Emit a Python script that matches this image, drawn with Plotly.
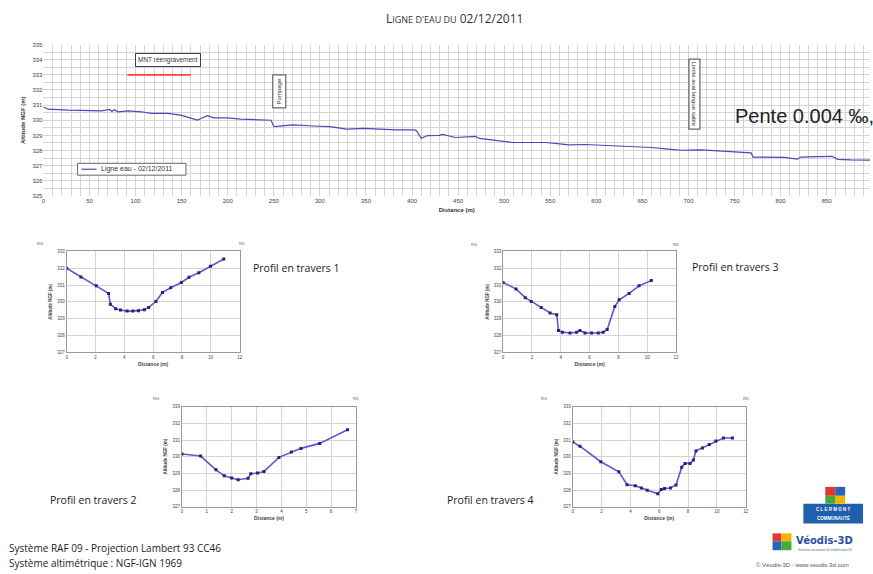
import plotly.graph_objects as go

W, H = 873, 574

# ---------------- data ----------------
dist_main = [0, 5, 27, 50, 63, 72, 74, 77, 81, 92, 106, 117, 135, 149, 163, 167, 171, 178, 185,
             200, 214, 228, 243, 247, 250, 261, 271, 293, 311, 329, 347, 365, 383, 403, 405,
             410, 417, 430, 433, 447, 469, 473, 491, 509, 527, 545, 563, 570, 588, 606, 624,
             642, 660, 678, 692, 714, 732, 750, 768, 770, 786, 804, 818, 822, 840, 856, 862,
             876, 897]
alt_main = [330.88, 330.73, 330.67, 330.65, 330.62, 330.72, 330.58, 330.7, 330.56, 330.62,
            330.56, 330.45, 330.45, 330.34, 330.12, 330.01, 330.12, 330.3, 330.16, 330.16,
            330.08, 330.06, 330.01, 330.0, 329.58, 329.64, 329.69, 329.62, 329.58, 329.42,
            329.46, 329.42, 329.36, 329.36, 329.3, 328.81, 328.99, 329.0, 329.06, 328.86,
            328.93, 328.8, 328.64, 328.53, 328.53, 328.53, 328.42, 328.38, 328.4, 328.35,
            328.3, 328.26, 328.2, 328.1, 328.02, 328.05, 327.99, 327.92, 327.85, 327.57,
            327.57, 327.55, 327.44, 327.57, 327.6, 327.62, 327.42, 327.38, 327.37]
main_series_name = "Ligne eau - 02/12/2011"

p1_x = [0, 0.99, 2.06, 2.91, 3.03, 3.4, 3.74, 4.2, 4.59, 4.98, 5.39, 5.69, 6.19, 6.65, 7.22,
        7.96, 8.49, 9.17, 9.98, 10.9]
p1_y = [332.0, 331.48, 330.95, 330.5, 329.86, 329.59, 329.51, 329.45, 329.45, 329.47, 329.53,
        329.67, 330.02, 330.56, 330.84, 331.15, 331.46, 331.73, 332.12, 332.55]

p3_x = [0, 0.9, 1.54, 1.95, 2.64, 3.26, 3.72, 3.84, 4.11, 4.64, 5.1, 5.33, 5.68, 6.14, 6.6,
        6.94, 7.22, 7.75, 8.05, 8.74, 9.43, 10.28]
p3_y = [331.15, 330.76, 330.25, 330.02, 329.67, 329.34, 329.24, 328.3, 328.2, 328.15, 328.19,
        328.3, 328.15, 328.15, 328.15, 328.2, 328.36, 329.73, 330.12, 330.5, 330.95, 331.27]

p2_x = [0, 0.75, 1.37, 1.7, 2.0, 2.26, 2.66, 2.77, 3.04, 3.3, 3.9, 4.4, 4.79, 5.54, 6.66]
p2_y = [330.16, 330.04, 329.21, 328.85, 328.72, 328.62, 328.7, 328.98, 329.02, 329.11,
        329.96, 330.28, 330.5, 330.8, 331.62]

p4_x = [0, 0.5, 1.95, 3.2, 3.77, 4.34, 4.76, 5.17, 5.9, 6.14, 6.37, 6.78, 7.17, 7.56, 7.79,
        8.14, 8.37, 8.55, 9.0, 9.47, 9.93, 10.46, 11.08]
p4_y = [330.89, 330.63, 329.7, 329.09, 328.32, 328.26, 328.12, 327.98, 327.77, 328.03, 328.09,
        328.12, 328.3, 329.37, 329.6, 329.6, 329.8, 330.35, 330.53, 330.73, 330.95, 331.12,
        331.12]

mnt_line_x = [91, 160]
mnt_line_y = [333.0, 333.0]

main_yticks = list(range(325, 336))
prof_yticks = list(range(327, 334))

# ---------------- helpers ----------------
def px(v):
    return v / W

def py(v):
    return 1 - v / H

LINE = "#4a4ab8"
MARK = "#23237a"
GRID = "#d4d4d4"
TICKF = dict(family="Liberation Sans, Arial", size=6, color="#444")
TXT = "Open Sans, Liberation Sans"

fig = go.Figure()

fig.add_trace(go.Scatter(x=dist_main, y=alt_main, mode="lines", name=main_series_name,
                         line=dict(color=LINE, width=1.2), xaxis="x", yaxis="y", showlegend=False))
fig.add_trace(go.Scatter(x=mnt_line_x, y=mnt_line_y, mode="lines", line=dict(color="#ff4040", width=1.6),
                         xaxis="x", yaxis="y", showlegend=False, hoverinfo="skip"))

profiles = [
    (p1_x, p1_y, "x2", "y2"),
    (p3_x, p3_y, "x3", "y3"),
    (p2_x, p2_y, "x4", "y4"),
    (p4_x, p4_y, "x5", "y5"),
]
for xs, ys, xa, ya in profiles:
    fig.add_trace(go.Scatter(x=xs, y=ys, mode="lines+markers",
                             line=dict(color="#5a5ad0", width=1.6),
                             marker=dict(symbol="square", size=3, color=MARK),
                             xaxis=xa, yaxis=ya, showlegend=False))

layout = dict(
    width=W, height=H, margin=dict(l=0, r=0, t=0, b=0),
    paper_bgcolor="white", plot_bgcolor="white",
    showlegend=False,
    xaxis=dict(domain=[px(41.7), 1], range=[0, 897], dtick=50, tick0=0,
               showgrid=True, gridcolor=GRID, gridwidth=1,
               minor=dict(dtick=10, showgrid=True, gridcolor=GRID, gridwidth=1),
               zeroline=False, showline=False, tickfont=TICKF, ticks="",
               title=dict(text="<b>Distance (m)</b>", font=dict(family="Liberation Sans, Arial", size=6, color="#333"),
                          standoff=4),
               anchor="y"),
    yaxis=dict(domain=[py(195), py(42)], range=[325, 335], tickvals=main_yticks,
               showgrid=True, gridcolor=GRID, gridwidth=1,
               minor=dict(dtick=0.5, showgrid=True, gridcolor=GRID, gridwidth=1),
               zeroline=False, showline=False, tickfont=TICKF, ticks="",
               title=dict(text="<b>Altitude NGF (m)</b>", font=dict(family="Liberation Sans, Arial", size=6, color="#333"),
                          standoff=6),
               anchor="x"),
)

prof_boxes = {
    "2": (65, 239, 251, 353, 12, 2),
    "3": (504, 678, 251, 353, 12, 2),
    "4": (181, 356, 408, 509, 7, 1),
    "5": (574, 748, 408, 509, 12, 2),
}
SF = dict(family="Liberation Sans, Arial", size=4.5, color="#444")
for k, (x0, x1, y0, y1, xmax, dt) in prof_boxes.items():
    layout["xaxis" + k] = dict(domain=[px(x0), px(x1)], range=[0, xmax], dtick=dt, tick0=0,
                               showgrid=True, gridcolor=GRID, zeroline=False,
                               showline=True, linecolor="#999", mirror=True, ticks="",
                               tickfont=SF, anchor="y" + k,
                               title=dict(text="<b>Distance (m)</b>", font=dict(family="Liberation Sans, Arial", size=5, color="#444"),
                                          standoff=3))
    layout["yaxis" + k] = dict(domain=[py(y1), py(y0)], range=[327, 333], tickvals=prof_yticks,
                               showgrid=True, gridcolor=GRID, zeroline=False,
                               showline=True, linecolor="#999", mirror=True, ticks="",
                               tickfont=SF, anchor="x" + k,
                               title=dict(text="<b>Altitude NGF (m)</b>", font=dict(family="Liberation Sans, Arial", size=4.5, color="#444"),
                                          standoff=4))

fig.update_layout(**layout)


def pa(x, y, text, size, family=TXT, color="#222", xanchor="center", **kw):
    d = dict(x=px(x), y=py(y), xref="paper", yref="paper", showarrow=False, text=text,
             xanchor=xanchor, yanchor="middle", font=dict(family=family, size=size, color=color))
    d.update(kw)
    return d


ann = []
# title (small caps imitation)
ann.append(pa(455, 16, "<span style='font-size:12px'>L</span><span style='font-size:9px'>IGNE D'EAU DU</span> 02/12/2011",
              12, color="#333"))
# MNT box
ann.append(dict(x=135, y=333.95, xref="x", yref="y", showarrow=False, text="MNT réengravement",
                font=dict(family="Liberation Sans, Arial", size=6.5, color="#333"),
                bordercolor="#444", borderwidth=1, borderpad=2, bgcolor="white"))
# Pompage
ann.append(dict(x=256, y=331.93, xref="x", yref="y", showarrow=False, text="Pompage", textangle=-90,
                font=dict(family="Liberation Sans, Arial", size=6, color="#333"),
                bordercolor="#444", borderwidth=1, borderpad=3, bgcolor="white"))
# Limite aval
ann.append(dict(x=707, y=331.7, xref="x", yref="y", showarrow=False, text="Limite aval langue sable",
                textangle=90,
                font=dict(family="Liberation Sans, Arial", size=6, color="#333"),
                bordercolor="#444", borderwidth=1, borderpad=2, bgcolor="white"))
# Pente
ann.append(pa(735, 114, "Pente 0.004 ‰,", 20, family="Liberation Sans, Arial", xanchor="left"))
# legend text
ann.append(pa(98, 168, main_series_name, 7, family="Liberation Sans, Arial", color="#333", xanchor="left"))

# Profile labels
for (tx, ty, t) in [(296, 268, "Profil en travers 1"), (738, 267, "Profil en travers 3"),
                    (92, 502, "Profil en travers 2"), (491, 502, "Profil en travers 4")]:
    ann.append(pa(tx, ty, t, 10.5))

# RG / RD
for (tx, ty, t) in [(38, 243, "RG"), (241, 243, "RD"), (475, 244, "RG"), (678, 244, "RD"),
                    (155, 400, "RG"), (356, 400, "RD"), (545, 400, "RG"), (748, 400, "RD")]:
    ann.append(pa(tx, ty, t, 4, family="Liberation Sans, Arial", color="#555"))

# bottom-left texts
ann.append(pa(5, 551, "Système RAF 09 - Projection Lambert 93 CC46", 10, xanchor="left"))
ann.append(pa(5, 566, "Système altimétrique : NGF-IGN 1969", 10, xanchor="left"))

# logos text
ann.append(pa(836, 512, "<b>C L E R M O N T</b>", 4.5, family="Liberation Sans", color="white"))
ann.append(pa(836, 520, "<b>COMMUNAUTÉ</b>", 4.5, family="Liberation Sans", color="white"))
ann.append(pa(797, 543, "<b>Véodis-3D</b>", 10, family="DejaVu Sans", color="#2b4ea0", xanchor="left"))
ann.append(pa(799, 553, "Solutions innovantes de modélisation 3D", 3, family="Liberation Sans",
              color="#3a8a3a", xanchor="left"))
ann.append(pa(805, 568, "© Véodis-3D - www.veodis-3d.com", 6, family="Liberation Sans", color="#555"))

fig.update_layout(annotations=ann)

shapes = []
# legend box + sample line
shapes.append(dict(type="rect", xref="paper", yref="paper", x0=px(76), x1=px(185), y0=py(174), y1=py(162),
                   fillcolor="white", line=dict(color="#666", width=1), layer="above"))
shapes.append(dict(type="line", xref="paper", yref="paper", x0=px(80), x1=px(95), y0=py(168), y1=py(168),
                   line=dict(color=LINE, width=1.2), layer="above"))
# Clermont logo
shapes.append(dict(type="rect", xref="paper", yref="paper", x0=px(806), x1=px(866), y0=py(526), y1=py(506),
                   fillcolor="#1f5fae", line=dict(width=0)))
for (a, b, c, d, col) in [(828, 838, 489, 498, "#e03a2e"), (838, 848, 489, 498, "#2a66b8"),
                          (838, 848, 498, 506, "#f3b400"), (828, 838, 498, 506, "#4aa83a")]:
    shapes.append(dict(type="rect", xref="paper", yref="paper", x0=px(a), x1=px(b), y0=py(d), y1=py(c),
                       fillcolor=col, line=dict(width=0)))
# Véodis logo icon
for (a, b, c, d, col) in [(775, 784, 536, 544, "#e03a2e"), (784, 794, 536, 544, "#f3b400"),
                          (775, 784, 544, 553, "#2a66b8"), (784, 794, 544, 553, "#4aa83a")]:
    shapes.append(dict(type="rect", xref="paper", yref="paper", x0=px(a), x1=px(b), y0=py(d), y1=py(c),
                       fillcolor=col, line=dict(width=0)))
fig.update_layout(shapes=shapes)

fig.write_html("out.html")
